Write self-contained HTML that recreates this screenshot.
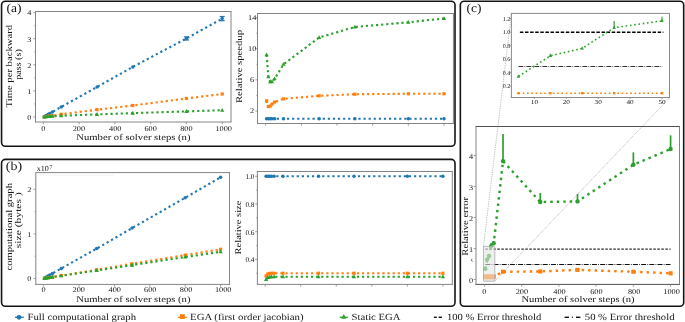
<!DOCTYPE html><html><head><meta charset="utf-8"><style>html,body{margin:0;padding:0;background:#fff;}svg{display:block;will-change:transform;}text{font-family:"Liberation Serif",serif;text-rendering:geometricPrecision;}</style></head><body>
<svg width="685" height="322" viewBox="0 0 685 322">
<rect width="685" height="322" fill="#fff"/>
<rect x="1.55" y="1.2" width="453.45" height="145.1" rx="3.8" ry="3.8" fill="none" stroke="#141414" stroke-width="1.6"/>
<rect x="1.55" y="159.4" width="453.45" height="146.8" rx="3.8" ry="3.8" fill="none" stroke="#141414" stroke-width="1.6"/>
<rect x="460.35" y="1.2" width="223.35" height="305" rx="3.8" ry="3.8" fill="none" stroke="#141414" stroke-width="1.6"/>
<text x="6.5" y="12.1" font-size="12.4" text-anchor="start" fill="#141414" textLength="15" lengthAdjust="spacingAndGlyphs" >(a)</text>
<text x="5.8" y="170.2" font-size="12.4" text-anchor="start" fill="#141414" textLength="16.3" lengthAdjust="spacingAndGlyphs" >(b)</text>
<text x="466.6" y="12.2" font-size="12.4" text-anchor="start" fill="#141414" textLength="14.8" lengthAdjust="spacingAndGlyphs" >(c)</text>
<line x1="35" y1="11.5" x2="231.5" y2="11.5" stroke="#848484" stroke-width="1" />
<line x1="35" y1="122" x2="231.5" y2="122" stroke="#848484" stroke-width="1" />
<line x1="35.5" y1="11.5" x2="35.5" y2="122" stroke="#848484" stroke-width="1" />
<line x1="231" y1="11.5" x2="231" y2="122" stroke="#848484" stroke-width="1" />
<line x1="33.3" y1="117" x2="35.5" y2="117" stroke="#848484" stroke-width="0.8" />
<line x1="33.3" y1="90.9" x2="35.5" y2="90.9" stroke="#848484" stroke-width="0.8" />
<line x1="33.3" y1="64.8" x2="35.5" y2="64.8" stroke="#848484" stroke-width="0.8" />
<line x1="33.3" y1="38.7" x2="35.5" y2="38.7" stroke="#848484" stroke-width="0.8" />
<line x1="33.3" y1="12.6" x2="35.5" y2="12.6" stroke="#848484" stroke-width="0.8" />
<line x1="34.1" y1="103.95" x2="35.5" y2="103.95" stroke="#848484" stroke-width="0.6" />
<line x1="34.1" y1="77.85" x2="35.5" y2="77.85" stroke="#848484" stroke-width="0.6" />
<line x1="34.1" y1="51.75" x2="35.5" y2="51.75" stroke="#848484" stroke-width="0.6" />
<line x1="34.1" y1="25.65" x2="35.5" y2="25.65" stroke="#848484" stroke-width="0.6" />
<text x="31.3" y="119.85" font-size="7.3" text-anchor="end" fill="#141414" textLength="4.14" lengthAdjust="spacingAndGlyphs" >0</text>
<text x="31.3" y="93.75" font-size="7.3" text-anchor="end" fill="#141414" textLength="4.14" lengthAdjust="spacingAndGlyphs" >1</text>
<text x="31.3" y="67.65" font-size="7.3" text-anchor="end" fill="#141414" textLength="4.14" lengthAdjust="spacingAndGlyphs" >2</text>
<text x="31.3" y="41.55" font-size="7.3" text-anchor="end" fill="#141414" textLength="4.14" lengthAdjust="spacingAndGlyphs" >3</text>
<text x="31.3" y="15.45" font-size="7.3" text-anchor="end" fill="#141414" textLength="4.14" lengthAdjust="spacingAndGlyphs" >4</text>
<line x1="43.4" y1="122" x2="43.4" y2="124.2" stroke="#848484" stroke-width="0.8" />
<line x1="79.16" y1="122" x2="79.16" y2="124.2" stroke="#848484" stroke-width="0.8" />
<line x1="114.92" y1="122" x2="114.92" y2="124.2" stroke="#848484" stroke-width="0.8" />
<line x1="150.68" y1="122" x2="150.68" y2="124.2" stroke="#848484" stroke-width="0.8" />
<line x1="186.44" y1="122" x2="186.44" y2="124.2" stroke="#848484" stroke-width="0.8" />
<line x1="222.2" y1="122" x2="222.2" y2="124.2" stroke="#848484" stroke-width="0.8" />
<text x="43.4" y="131" font-size="7.3" text-anchor="middle" fill="#141414" textLength="4.14" lengthAdjust="spacingAndGlyphs" >0</text>
<text x="78.86" y="131" font-size="7.3" text-anchor="middle" fill="#141414" textLength="12.43" lengthAdjust="spacingAndGlyphs" >200</text>
<text x="115.22" y="131" font-size="7.3" text-anchor="middle" fill="#141414" textLength="12.43" lengthAdjust="spacingAndGlyphs" >400</text>
<text x="150.68" y="131" font-size="7.3" text-anchor="middle" fill="#141414" textLength="12.43" lengthAdjust="spacingAndGlyphs" >600</text>
<text x="186.44" y="131" font-size="7.3" text-anchor="middle" fill="#141414" textLength="12.43" lengthAdjust="spacingAndGlyphs" >800</text>
<text x="223.7" y="131" font-size="7.3" text-anchor="middle" fill="#141414" textLength="16.58" lengthAdjust="spacingAndGlyphs" >1000</text>
<text x="76.3" y="140" font-size="8.8" text-anchor="start" fill="#141414" textLength="114.2" lengthAdjust="spacingAndGlyphs" >Number of solver steps (n)</text>
<text x="11.9" y="66.2" font-size="8.8" text-anchor="middle" fill="#141414" textLength="82.5" lengthAdjust="spacingAndGlyphs" transform="rotate(-90 11.9 66.2)" >Time per backward</text>
<text x="20.6" y="64.5" font-size="8.8" text-anchor="middle" fill="#141414" textLength="30.5" lengthAdjust="spacingAndGlyphs" transform="rotate(-90 20.6 64.5)" >pass (s)</text>
<polyline points="44.29,116.48 46.08,115.43 47.87,114.39 49.66,113.48 52.34,112.04 61.28,106.95 97.04,86.98 132.8,66.89 186.44,38.44 222.2,18.6" fill="none" stroke="#1f77b4" stroke-width="2.1" stroke-dasharray="2.2 2.9" />
<circle cx="44.29" cy="116.48" r="1.75" fill="#1f77b4"/>
<circle cx="46.08" cy="115.43" r="1.75" fill="#1f77b4"/>
<circle cx="47.87" cy="114.39" r="1.75" fill="#1f77b4"/>
<circle cx="49.66" cy="113.48" r="1.75" fill="#1f77b4"/>
<circle cx="52.34" cy="112.04" r="1.75" fill="#1f77b4"/>
<circle cx="61.28" cy="106.95" r="1.75" fill="#1f77b4"/>
<circle cx="97.04" cy="86.98" r="1.75" fill="#1f77b4"/>
<circle cx="132.8" cy="66.89" r="1.75" fill="#1f77b4"/>
<circle cx="186.44" cy="38.44" r="1.75" fill="#1f77b4"/>
<circle cx="222.2" cy="18.6" r="1.75" fill="#1f77b4"/>
<polyline points="44.29,116.84 46.08,116.56 47.87,116.3 49.66,116.06 52.34,115.69 61.28,114.26 97.04,109.69 132.8,105.52 186.44,98.47 222.2,94.03" fill="none" stroke="#ff7f0e" stroke-width="2.1" stroke-dasharray="2.2 2.9" />
<rect x="42.69" y="115.24" width="3.2" height="3.2" fill="#ff7f0e"/>
<rect x="44.48" y="114.96" width="3.2" height="3.2" fill="#ff7f0e"/>
<rect x="46.27" y="114.7" width="3.2" height="3.2" fill="#ff7f0e"/>
<rect x="48.06" y="114.46" width="3.2" height="3.2" fill="#ff7f0e"/>
<rect x="50.74" y="114.09" width="3.2" height="3.2" fill="#ff7f0e"/>
<rect x="59.68" y="112.66" width="3.2" height="3.2" fill="#ff7f0e"/>
<rect x="95.44" y="108.09" width="3.2" height="3.2" fill="#ff7f0e"/>
<rect x="131.2" y="103.92" width="3.2" height="3.2" fill="#ff7f0e"/>
<rect x="184.84" y="96.87" width="3.2" height="3.2" fill="#ff7f0e"/>
<rect x="220.6" y="92.43" width="3.2" height="3.2" fill="#ff7f0e"/>
<polyline points="44.29,116.95 46.08,116.77 47.87,116.56 49.66,116.37 52.34,116.19 61.28,115.75 97.04,114.39 132.8,113.14 186.44,111.39 222.2,110.21" fill="none" stroke="#2ca02c" stroke-width="2.1" stroke-dasharray="2.2 2.9" />
<polygon points="44.29,114.68 46.39,118.46 42.19,118.46" fill="#2ca02c"/>
<polygon points="46.08,114.5 48.18,118.28 43.98,118.28" fill="#2ca02c"/>
<polygon points="47.87,114.29 49.97,118.07 45.77,118.07" fill="#2ca02c"/>
<polygon points="49.66,114.11 51.76,117.89 47.56,117.89" fill="#2ca02c"/>
<polygon points="52.34,113.92 54.44,117.7 50.24,117.7" fill="#2ca02c"/>
<polygon points="61.28,113.48 63.38,117.26 59.18,117.26" fill="#2ca02c"/>
<polygon points="97.04,112.12 99.14,115.9 94.94,115.9" fill="#2ca02c"/>
<polygon points="132.8,110.87 134.9,114.65 130.7,114.65" fill="#2ca02c"/>
<polygon points="186.44,109.12 188.54,112.9 184.34,112.9" fill="#2ca02c"/>
<polygon points="222.2,107.95 224.3,111.73 220.1,111.73" fill="#2ca02c"/>
<line x1="186.44" y1="36.87" x2="186.44" y2="40.01" stroke="#1f77b4" stroke-width="1.2" />
<line x1="183.94" y1="36.87" x2="188.94" y2="36.87" stroke="#1f77b4" stroke-width="1.2" />
<line x1="183.94" y1="40.01" x2="188.94" y2="40.01" stroke="#1f77b4" stroke-width="1.2" />
<line x1="222.2" y1="16.51" x2="222.2" y2="20.69" stroke="#1f77b4" stroke-width="1.2" />
<line x1="219.7" y1="16.51" x2="224.7" y2="16.51" stroke="#1f77b4" stroke-width="1.2" />
<line x1="219.7" y1="20.69" x2="224.7" y2="20.69" stroke="#1f77b4" stroke-width="1.2" />
<line x1="257" y1="13.5" x2="453.9" y2="13.5" stroke="#848484" stroke-width="1" />
<line x1="257" y1="123.5" x2="453.9" y2="123.5" stroke="#848484" stroke-width="1" />
<line x1="257.5" y1="13.5" x2="257.5" y2="123.5" stroke="#848484" stroke-width="1" />
<line x1="453.4" y1="13.5" x2="453.4" y2="123.5" stroke="#848484" stroke-width="1" />
<line x1="255.3" y1="110.95" x2="257.5" y2="110.95" stroke="#848484" stroke-width="0.8" />
<line x1="255.3" y1="79.85" x2="257.5" y2="79.85" stroke="#848484" stroke-width="0.8" />
<line x1="255.3" y1="48.75" x2="257.5" y2="48.75" stroke="#848484" stroke-width="0.8" />
<line x1="255.3" y1="17.65" x2="257.5" y2="17.65" stroke="#848484" stroke-width="0.8" />
<line x1="256.1" y1="95.4" x2="257.5" y2="95.4" stroke="#848484" stroke-width="0.6" />
<line x1="256.1" y1="64.3" x2="257.5" y2="64.3" stroke="#848484" stroke-width="0.6" />
<line x1="256.1" y1="33.2" x2="257.5" y2="33.2" stroke="#848484" stroke-width="0.6" />
<text x="252.2" y="113.25" font-size="7.3" text-anchor="middle" fill="#141414" textLength="4.14" lengthAdjust="spacingAndGlyphs" >2</text>
<text x="252.2" y="82.15" font-size="7.3" text-anchor="middle" fill="#141414" textLength="4.14" lengthAdjust="spacingAndGlyphs" >6</text>
<text x="252.2" y="51.05" font-size="7.3" text-anchor="middle" fill="#141414" textLength="8.29" lengthAdjust="spacingAndGlyphs" >10</text>
<text x="252.2" y="19.95" font-size="7.3" text-anchor="middle" fill="#141414" textLength="8.29" lengthAdjust="spacingAndGlyphs" >14</text>
<line x1="265.7" y1="123.5" x2="265.7" y2="125.7" stroke="#848484" stroke-width="0.8" />
<line x1="301.36" y1="123.5" x2="301.36" y2="125.7" stroke="#848484" stroke-width="0.8" />
<line x1="337.02" y1="123.5" x2="337.02" y2="125.7" stroke="#848484" stroke-width="0.8" />
<line x1="372.68" y1="123.5" x2="372.68" y2="125.7" stroke="#848484" stroke-width="0.8" />
<line x1="408.34" y1="123.5" x2="408.34" y2="125.7" stroke="#848484" stroke-width="0.8" />
<line x1="444" y1="123.5" x2="444" y2="125.7" stroke="#848484" stroke-width="0.8" />
<text x="241.8" y="66.5" font-size="8.8" text-anchor="middle" fill="#141414" textLength="73" lengthAdjust="spacingAndGlyphs" transform="rotate(-90 241.8 66.5)" >Relative speedup</text>
<polyline points="266.59,118.72 268.37,118.72 270.16,118.72 271.94,118.72 274.62,118.72 283.53,118.72 319.19,118.72 354.85,118.72 408.34,118.72 444,118.72" fill="none" stroke="#1f77b4" stroke-width="2.1" stroke-dasharray="2.2 2.9" />
<circle cx="266.59" cy="118.72" r="1.75" fill="#1f77b4"/>
<circle cx="268.37" cy="118.72" r="1.75" fill="#1f77b4"/>
<circle cx="270.16" cy="118.72" r="1.75" fill="#1f77b4"/>
<circle cx="271.94" cy="118.72" r="1.75" fill="#1f77b4"/>
<circle cx="274.62" cy="118.72" r="1.75" fill="#1f77b4"/>
<circle cx="283.53" cy="118.72" r="1.75" fill="#1f77b4"/>
<circle cx="319.19" cy="118.72" r="1.75" fill="#1f77b4"/>
<circle cx="354.85" cy="118.72" r="1.75" fill="#1f77b4"/>
<circle cx="408.34" cy="118.72" r="1.75" fill="#1f77b4"/>
<circle cx="444" cy="118.72" r="1.75" fill="#1f77b4"/>
<polyline points="266.59,100.76 268.37,106.52 270.16,106.13 271.94,104.19 274.62,102.09 283.53,98.82 319.19,95.79 354.85,94.23 408.34,93.77 444,93.77" fill="none" stroke="#ff7f0e" stroke-width="2.1" stroke-dasharray="2.2 2.9" />
<rect x="264.99" y="99.16" width="3.2" height="3.2" fill="#ff7f0e"/>
<rect x="266.77" y="104.92" width="3.2" height="3.2" fill="#ff7f0e"/>
<rect x="268.56" y="104.53" width="3.2" height="3.2" fill="#ff7f0e"/>
<rect x="270.34" y="102.59" width="3.2" height="3.2" fill="#ff7f0e"/>
<rect x="273.01" y="100.49" width="3.2" height="3.2" fill="#ff7f0e"/>
<rect x="281.93" y="97.22" width="3.2" height="3.2" fill="#ff7f0e"/>
<rect x="317.59" y="94.19" width="3.2" height="3.2" fill="#ff7f0e"/>
<rect x="353.25" y="92.63" width="3.2" height="3.2" fill="#ff7f0e"/>
<rect x="406.74" y="92.17" width="3.2" height="3.2" fill="#ff7f0e"/>
<rect x="442.4" y="92.17" width="3.2" height="3.2" fill="#ff7f0e"/>
<polyline points="266.59,54.81 268.37,76.82 270.16,81.64 271.94,81.64 274.62,78.84 283.53,64.3 319.19,37.48 354.85,26.98 408.34,22.31 444,18.43" fill="none" stroke="#2ca02c" stroke-width="2.1" stroke-dasharray="2.2 2.9" />
<polygon points="266.59,52.55 268.69,56.33 264.49,56.33" fill="#2ca02c"/>
<polygon points="268.37,74.55 270.47,78.33 266.27,78.33" fill="#2ca02c"/>
<polygon points="270.16,79.37 272.26,83.15 268.06,83.15" fill="#2ca02c"/>
<polygon points="271.94,79.37 274.04,83.15 269.84,83.15" fill="#2ca02c"/>
<polygon points="274.62,76.57 276.72,80.35 272.51,80.35" fill="#2ca02c"/>
<polygon points="283.53,62.03 285.63,65.81 281.43,65.81" fill="#2ca02c"/>
<polygon points="319.19,35.21 321.29,38.99 317.09,38.99" fill="#2ca02c"/>
<polygon points="354.85,24.71 356.95,28.49 352.75,28.49" fill="#2ca02c"/>
<polygon points="408.34,20.05 410.44,23.83 406.24,23.83" fill="#2ca02c"/>
<polygon points="444,16.16 446.1,19.94 441.9,19.94" fill="#2ca02c"/>
<line x1="35.3" y1="172.6" x2="230" y2="172.6" stroke="#848484" stroke-width="1" />
<line x1="35.3" y1="284.4" x2="230" y2="284.4" stroke="#848484" stroke-width="1" />
<line x1="35.8" y1="172.6" x2="35.8" y2="284.4" stroke="#848484" stroke-width="1" />
<line x1="229.5" y1="172.6" x2="229.5" y2="284.4" stroke="#848484" stroke-width="1" />
<line x1="38.8" y1="175" x2="114" y2="175" stroke="#efefef" stroke-width="0.8" />
<line x1="33.6" y1="278.5" x2="35.8" y2="278.5" stroke="#848484" stroke-width="0.8" />
<line x1="33.6" y1="233.9" x2="35.8" y2="233.9" stroke="#848484" stroke-width="0.8" />
<line x1="33.6" y1="189.3" x2="35.8" y2="189.3" stroke="#848484" stroke-width="0.8" />
<line x1="34.4" y1="256.2" x2="35.8" y2="256.2" stroke="#848484" stroke-width="0.6" />
<line x1="34.4" y1="211.6" x2="35.8" y2="211.6" stroke="#848484" stroke-width="0.6" />
<text x="31.3" y="281.35" font-size="7.3" text-anchor="end" fill="#141414" textLength="4.14" lengthAdjust="spacingAndGlyphs" >0</text>
<text x="31.3" y="236.75" font-size="7.3" text-anchor="end" fill="#141414" textLength="4.14" lengthAdjust="spacingAndGlyphs" >1</text>
<text x="31.3" y="192.15" font-size="7.3" text-anchor="end" fill="#141414" textLength="4.14" lengthAdjust="spacingAndGlyphs" >2</text>
<line x1="43.6" y1="284.4" x2="43.6" y2="286.6" stroke="#848484" stroke-width="0.8" />
<line x1="79" y1="284.4" x2="79" y2="286.6" stroke="#848484" stroke-width="0.8" />
<line x1="114.4" y1="284.4" x2="114.4" y2="286.6" stroke="#848484" stroke-width="0.8" />
<line x1="149.8" y1="284.4" x2="149.8" y2="286.6" stroke="#848484" stroke-width="0.8" />
<line x1="185.2" y1="284.4" x2="185.2" y2="286.6" stroke="#848484" stroke-width="0.8" />
<line x1="220.6" y1="284.4" x2="220.6" y2="286.6" stroke="#848484" stroke-width="0.8" />
<text x="43.6" y="291.6" font-size="7.3" text-anchor="middle" fill="#141414" textLength="4.14" lengthAdjust="spacingAndGlyphs" >0</text>
<text x="78.8" y="291.6" font-size="7.3" text-anchor="middle" fill="#141414" textLength="12.43" lengthAdjust="spacingAndGlyphs" >200</text>
<text x="114.8" y="291.6" font-size="7.3" text-anchor="middle" fill="#141414" textLength="12.43" lengthAdjust="spacingAndGlyphs" >400</text>
<text x="150.3" y="291.6" font-size="7.3" text-anchor="middle" fill="#141414" textLength="12.43" lengthAdjust="spacingAndGlyphs" >600</text>
<text x="186.1" y="291.6" font-size="7.3" text-anchor="middle" fill="#141414" textLength="12.43" lengthAdjust="spacingAndGlyphs" >800</text>
<text x="223.2" y="291.6" font-size="7.3" text-anchor="middle" fill="#141414" textLength="16.58" lengthAdjust="spacingAndGlyphs" >1000</text>
<text x="76.3" y="301.8" font-size="8.8" text-anchor="start" fill="#141414" textLength="114.2" lengthAdjust="spacingAndGlyphs" >Number of solver steps (n)</text>
<text x="11.8" y="226.8" font-size="8.8" text-anchor="middle" fill="#141414" textLength="87.5" lengthAdjust="spacingAndGlyphs" transform="rotate(-90 11.8 226.8)" >computational graph</text>
<text x="21.5" y="220.2" font-size="8.8" text-anchor="middle" fill="#141414" textLength="55.9" lengthAdjust="spacingAndGlyphs" transform="rotate(-90 21.5 220.2)" >size (bytes )</text>
<text x="36.8" y="171" font-size="7.8" text-anchor="start" fill="#1a1a1a" textLength="12.1" lengthAdjust="spacingAndGlyphs" >x10</text>
<text x="49.5" y="169" font-size="5.6" text-anchor="start" fill="#1a1a1a" >7</text>
<polyline points="44.48,277.99 46.26,276.98 48.02,275.96 49.8,274.93 52.45,273.42 61.3,268.38 96.7,248.62 132.1,228.1 185.2,197.77 220.6,177.26" fill="none" stroke="#1f77b4" stroke-width="2.1" stroke-dasharray="2.2 2.9" />
<circle cx="44.48" cy="277.99" r="1.75" fill="#1f77b4"/>
<circle cx="46.26" cy="276.98" r="1.75" fill="#1f77b4"/>
<circle cx="48.02" cy="275.96" r="1.75" fill="#1f77b4"/>
<circle cx="49.8" cy="274.93" r="1.75" fill="#1f77b4"/>
<circle cx="52.45" cy="273.42" r="1.75" fill="#1f77b4"/>
<circle cx="61.3" cy="268.38" r="1.75" fill="#1f77b4"/>
<circle cx="96.7" cy="248.62" r="1.75" fill="#1f77b4"/>
<circle cx="132.1" cy="228.1" r="1.75" fill="#1f77b4"/>
<circle cx="185.2" cy="197.77" r="1.75" fill="#1f77b4"/>
<circle cx="220.6" cy="177.26" r="1.75" fill="#1f77b4"/>
<polyline points="44.48,278.36 46.26,278.06 48.02,277.76 49.8,277.47 52.45,277.03 61.3,275.56 96.7,269.8 132.1,263.78 185.2,255.09 220.6,249.29" fill="none" stroke="#ff7f0e" stroke-width="2.1" stroke-dasharray="2.2 2.9" />
<rect x="42.88" y="276.76" width="3.2" height="3.2" fill="#ff7f0e"/>
<rect x="44.66" y="276.46" width="3.2" height="3.2" fill="#ff7f0e"/>
<rect x="46.42" y="276.16" width="3.2" height="3.2" fill="#ff7f0e"/>
<rect x="48.2" y="275.87" width="3.2" height="3.2" fill="#ff7f0e"/>
<rect x="50.85" y="275.43" width="3.2" height="3.2" fill="#ff7f0e"/>
<rect x="59.7" y="273.96" width="3.2" height="3.2" fill="#ff7f0e"/>
<rect x="95.1" y="268.2" width="3.2" height="3.2" fill="#ff7f0e"/>
<rect x="130.5" y="262.18" width="3.2" height="3.2" fill="#ff7f0e"/>
<rect x="183.6" y="253.49" width="3.2" height="3.2" fill="#ff7f0e"/>
<rect x="219" y="247.69" width="3.2" height="3.2" fill="#ff7f0e"/>
<polyline points="44.48,278.37 46.26,278.09 48.02,277.81 49.8,277.54 52.45,277.12 61.3,275.78 96.7,270.47 132.1,265.12 185.2,257.09 220.6,251.74" fill="none" stroke="#2ca02c" stroke-width="2.1" stroke-dasharray="2.2 2.9" />
<polygon points="44.48,276.1 46.59,279.88 42.38,279.88" fill="#2ca02c"/>
<polygon points="46.26,275.82 48.36,279.6 44.16,279.6" fill="#2ca02c"/>
<polygon points="48.02,275.54 50.12,279.32 45.92,279.32" fill="#2ca02c"/>
<polygon points="49.8,275.27 51.9,279.05 47.7,279.05" fill="#2ca02c"/>
<polygon points="52.45,274.85 54.55,278.63 50.35,278.63" fill="#2ca02c"/>
<polygon points="61.3,273.51 63.4,277.29 59.2,277.29" fill="#2ca02c"/>
<polygon points="96.7,268.2 98.8,271.98 94.6,271.98" fill="#2ca02c"/>
<polygon points="132.1,262.85 134.2,266.63 130,266.63" fill="#2ca02c"/>
<polygon points="185.2,254.82 187.3,258.6 183.1,258.6" fill="#2ca02c"/>
<polygon points="220.6,249.47 222.7,253.25 218.5,253.25" fill="#2ca02c"/>
<line x1="256.9" y1="171.5" x2="452.8" y2="171.5" stroke="#848484" stroke-width="1" />
<line x1="256.9" y1="284.4" x2="452.8" y2="284.4" stroke="#848484" stroke-width="1" />
<line x1="257.4" y1="171.5" x2="257.4" y2="284.4" stroke="#848484" stroke-width="1" />
<line x1="452.3" y1="171.5" x2="452.3" y2="284.4" stroke="#848484" stroke-width="1" />
<line x1="255.2" y1="259.4" x2="257.4" y2="259.4" stroke="#848484" stroke-width="0.8" />
<line x1="255.2" y1="231.7" x2="257.4" y2="231.7" stroke="#848484" stroke-width="0.8" />
<line x1="255.2" y1="204" x2="257.4" y2="204" stroke="#848484" stroke-width="0.8" />
<line x1="255.2" y1="176.3" x2="257.4" y2="176.3" stroke="#848484" stroke-width="0.8" />
<line x1="256" y1="273.25" x2="257.4" y2="273.25" stroke="#848484" stroke-width="0.6" />
<line x1="256" y1="245.55" x2="257.4" y2="245.55" stroke="#848484" stroke-width="0.6" />
<line x1="256" y1="217.85" x2="257.4" y2="217.85" stroke="#848484" stroke-width="0.6" />
<line x1="256" y1="190.15" x2="257.4" y2="190.15" stroke="#848484" stroke-width="0.6" />
<text x="254.5" y="262.25" font-size="7.3" text-anchor="end" fill="#141414" >0.4</text>
<text x="254.5" y="234.55" font-size="7.3" text-anchor="end" fill="#141414" >0.6</text>
<text x="254.5" y="206.85" font-size="7.3" text-anchor="end" fill="#141414" >0.8</text>
<text x="254.5" y="179.15" font-size="7.3" text-anchor="end" fill="#141414" >1.0</text>
<line x1="265.2" y1="284.4" x2="265.2" y2="286.6" stroke="#848484" stroke-width="0.8" />
<line x1="300.74" y1="284.4" x2="300.74" y2="286.6" stroke="#848484" stroke-width="0.8" />
<line x1="336.28" y1="284.4" x2="336.28" y2="286.6" stroke="#848484" stroke-width="0.8" />
<line x1="371.82" y1="284.4" x2="371.82" y2="286.6" stroke="#848484" stroke-width="0.8" />
<line x1="407.36" y1="284.4" x2="407.36" y2="286.6" stroke="#848484" stroke-width="0.8" />
<line x1="442.9" y1="284.4" x2="442.9" y2="286.6" stroke="#848484" stroke-width="0.8" />
<text x="240.9" y="227.5" font-size="8.8" text-anchor="middle" fill="#141414" textLength="53.8" lengthAdjust="spacingAndGlyphs" transform="rotate(-90 240.9 227.5)" >Relative size</text>
<polyline points="266.09,176.3 267.87,176.3 269.64,176.3 271.42,176.3 274.08,176.3 282.97,176.3 318.51,176.3 354.05,176.3 407.36,176.3 442.9,176.3" fill="none" stroke="#1f77b4" stroke-width="2.1" stroke-dasharray="2.2 2.9" />
<circle cx="266.09" cy="176.3" r="1.75" fill="#1f77b4"/>
<circle cx="267.87" cy="176.3" r="1.75" fill="#1f77b4"/>
<circle cx="269.64" cy="176.3" r="1.75" fill="#1f77b4"/>
<circle cx="271.42" cy="176.3" r="1.75" fill="#1f77b4"/>
<circle cx="274.08" cy="176.3" r="1.75" fill="#1f77b4"/>
<circle cx="282.97" cy="176.3" r="1.75" fill="#1f77b4"/>
<circle cx="318.51" cy="176.3" r="1.75" fill="#1f77b4"/>
<circle cx="354.05" cy="176.3" r="1.75" fill="#1f77b4"/>
<circle cx="407.36" cy="176.3" r="1.75" fill="#1f77b4"/>
<circle cx="442.9" cy="176.3" r="1.75" fill="#1f77b4"/>
<polyline points="266.09,276.02 267.87,273.94 269.64,273.53 271.42,273.25 274.08,273.25 282.97,273.25 318.51,273.25 354.05,273.25 407.36,273.25 442.9,273.25" fill="none" stroke="#ff7f0e" stroke-width="2.1" stroke-dasharray="2.2 2.9" />
<rect x="264.49" y="274.42" width="3.2" height="3.2" fill="#ff7f0e"/>
<rect x="266.27" y="272.34" width="3.2" height="3.2" fill="#ff7f0e"/>
<rect x="268.04" y="271.93" width="3.2" height="3.2" fill="#ff7f0e"/>
<rect x="269.82" y="271.65" width="3.2" height="3.2" fill="#ff7f0e"/>
<rect x="272.48" y="271.65" width="3.2" height="3.2" fill="#ff7f0e"/>
<rect x="281.37" y="271.65" width="3.2" height="3.2" fill="#ff7f0e"/>
<rect x="316.91" y="271.65" width="3.2" height="3.2" fill="#ff7f0e"/>
<rect x="352.45" y="271.65" width="3.2" height="3.2" fill="#ff7f0e"/>
<rect x="405.76" y="271.65" width="3.2" height="3.2" fill="#ff7f0e"/>
<rect x="441.3" y="271.65" width="3.2" height="3.2" fill="#ff7f0e"/>
<polyline points="266.09,279.48 267.87,277.41 269.64,277.13 271.42,276.71 274.08,276.71 282.97,276.71 318.51,276.71 354.05,276.71 407.36,276.71 442.9,276.71" fill="none" stroke="#2ca02c" stroke-width="2.1" stroke-dasharray="2.2 2.9" />
<polygon points="266.09,277.21 268.19,280.99 263.99,280.99" fill="#2ca02c"/>
<polygon points="267.87,275.14 269.97,278.92 265.77,278.92" fill="#2ca02c"/>
<polygon points="269.64,274.86 271.74,278.64 267.54,278.64" fill="#2ca02c"/>
<polygon points="271.42,274.44 273.52,278.22 269.32,278.22" fill="#2ca02c"/>
<polygon points="274.08,274.44 276.19,278.22 271.98,278.22" fill="#2ca02c"/>
<polygon points="282.97,274.44 285.07,278.22 280.87,278.22" fill="#2ca02c"/>
<polygon points="318.51,274.44 320.61,278.22 316.41,278.22" fill="#2ca02c"/>
<polygon points="354.05,274.44 356.15,278.22 351.95,278.22" fill="#2ca02c"/>
<polygon points="407.36,274.44 409.46,278.22 405.26,278.22" fill="#2ca02c"/>
<polygon points="442.9,274.44 445,278.22 440.8,278.22" fill="#2ca02c"/>
<line x1="475.5" y1="126.5" x2="680" y2="126.5" stroke="#505050" stroke-width="1" />
<line x1="475.5" y1="284.4" x2="680" y2="284.4" stroke="#505050" stroke-width="1" />
<line x1="476" y1="126.5" x2="476" y2="284.4" stroke="#848484" stroke-width="1" />
<line x1="679.5" y1="126.5" x2="679.5" y2="284.4" stroke="#848484" stroke-width="1" />
<line x1="473.8" y1="279.5" x2="476" y2="279.5" stroke="#848484" stroke-width="0.8" />
<line x1="473.8" y1="248.5" x2="476" y2="248.5" stroke="#848484" stroke-width="0.8" />
<line x1="473.8" y1="217.5" x2="476" y2="217.5" stroke="#848484" stroke-width="0.8" />
<line x1="473.8" y1="186.5" x2="476" y2="186.5" stroke="#848484" stroke-width="0.8" />
<line x1="473.8" y1="155.5" x2="476" y2="155.5" stroke="#848484" stroke-width="0.8" />
<text x="473.2" y="282.8" font-size="7.3" text-anchor="end" fill="#141414" textLength="4.14" lengthAdjust="spacingAndGlyphs" >0</text>
<text x="473.2" y="251.8" font-size="7.3" text-anchor="end" fill="#141414" textLength="4.14" lengthAdjust="spacingAndGlyphs" >1</text>
<text x="473.2" y="220.8" font-size="7.3" text-anchor="end" fill="#141414" textLength="4.14" lengthAdjust="spacingAndGlyphs" >2</text>
<text x="473.2" y="189.8" font-size="7.3" text-anchor="end" fill="#141414" textLength="4.14" lengthAdjust="spacingAndGlyphs" >3</text>
<text x="473.2" y="158.8" font-size="7.3" text-anchor="end" fill="#141414" textLength="4.14" lengthAdjust="spacingAndGlyphs" >4</text>
<line x1="484.4" y1="284.4" x2="484.4" y2="286.6" stroke="#848484" stroke-width="0.8" />
<line x1="521.64" y1="284.4" x2="521.64" y2="286.6" stroke="#848484" stroke-width="0.8" />
<line x1="558.88" y1="284.4" x2="558.88" y2="286.6" stroke="#848484" stroke-width="0.8" />
<line x1="596.12" y1="284.4" x2="596.12" y2="286.6" stroke="#848484" stroke-width="0.8" />
<line x1="633.36" y1="284.4" x2="633.36" y2="286.6" stroke="#848484" stroke-width="0.8" />
<line x1="670.6" y1="284.4" x2="670.6" y2="286.6" stroke="#848484" stroke-width="0.8" />
<text x="484.4" y="294" font-size="7.3" text-anchor="middle" fill="#141414" textLength="4.14" lengthAdjust="spacingAndGlyphs" >0</text>
<text x="521.84" y="294" font-size="7.3" text-anchor="middle" fill="#141414" textLength="12.43" lengthAdjust="spacingAndGlyphs" >200</text>
<text x="559.48" y="294" font-size="7.3" text-anchor="middle" fill="#141414" textLength="12.43" lengthAdjust="spacingAndGlyphs" >400</text>
<text x="596.42" y="294" font-size="7.3" text-anchor="middle" fill="#141414" textLength="12.43" lengthAdjust="spacingAndGlyphs" >600</text>
<text x="634.16" y="294" font-size="7.3" text-anchor="middle" fill="#141414" textLength="12.43" lengthAdjust="spacingAndGlyphs" >800</text>
<text x="671.6" y="294" font-size="7.3" text-anchor="middle" fill="#141414" textLength="16.58" lengthAdjust="spacingAndGlyphs" >1000</text>
<text x="521.4" y="302.2" font-size="8.8" text-anchor="start" fill="#141414" textLength="113.2" lengthAdjust="spacingAndGlyphs" >Number of solver steps (n)</text>
<text x="467.6" y="226.3" font-size="8.8" text-anchor="middle" fill="#141414" textLength="58.7" lengthAdjust="spacingAndGlyphs" transform="rotate(-90 467.6 226.3)" >Relative error</text>
<text x="471.8" y="260.5" font-size="5" text-anchor="middle" fill="#141414" >ς</text>
<polyline points="485.33,249 670.6,249" fill="none" stroke="#2a2a2a" stroke-width="1.25" stroke-dasharray="2.5 1.5" />
<polyline points="485.33,264.5 670.6,264.5" fill="none" stroke="#111" stroke-width="1.1" stroke-dasharray="5 1.2 0.8 1.2" />
<rect x="484.2" y="274.6" width="10.2" height="4.8" fill="#ff7f0e"/>
<polyline points="485.33,276.56 487.19,276.56 489.05,276.56 490.92,276.56 493.71,276.56 503.02,271.75 540.26,271.44 577.5,269.89 633.36,271.75 670.6,273.3" fill="none" stroke="#ff7f0e" stroke-width="2.4" stroke-dasharray="2.5 4" />
<rect x="483.28" y="274.5" width="4.1" height="4.1" fill="#ff7f0e"/>
<rect x="485.14" y="274.5" width="4.1" height="4.1" fill="#ff7f0e"/>
<rect x="487" y="274.5" width="4.1" height="4.1" fill="#ff7f0e"/>
<rect x="488.87" y="274.5" width="4.1" height="4.1" fill="#ff7f0e"/>
<rect x="491.66" y="274.5" width="4.1" height="4.1" fill="#ff7f0e"/>
<rect x="500.97" y="269.7" width="4.1" height="4.1" fill="#ff7f0e"/>
<rect x="538.21" y="269.39" width="4.1" height="4.1" fill="#ff7f0e"/>
<rect x="575.45" y="267.84" width="4.1" height="4.1" fill="#ff7f0e"/>
<rect x="631.31" y="269.7" width="4.1" height="4.1" fill="#ff7f0e"/>
<rect x="668.55" y="271.25" width="4.1" height="4.1" fill="#ff7f0e"/>
<polyline points="485.33,268.84 487.19,259.35 489.05,255.94 490.92,246.42 493.71,243.29 503.02,161.08 540.26,202 577.5,201.38 633.36,164.8 670.6,148.99" fill="none" stroke="#2ca02c" stroke-width="2.4" stroke-dasharray="2.5 4" />
<line x1="485.33" y1="268.34" x2="485.33" y2="268.84" stroke="#2ca02c" stroke-width="1.7" />
<circle cx="485.33" cy="268.84" r="2.2" fill="#2ca02c"/>
<line x1="487.19" y1="258.42" x2="487.19" y2="259.35" stroke="#2ca02c" stroke-width="1.7" />
<circle cx="487.19" cy="259.35" r="2.2" fill="#2ca02c"/>
<line x1="489.05" y1="255.63" x2="489.05" y2="255.94" stroke="#2ca02c" stroke-width="1.7" />
<circle cx="489.05" cy="255.94" r="2.2" fill="#2ca02c"/>
<line x1="490.92" y1="243.29" x2="490.92" y2="246.42" stroke="#2ca02c" stroke-width="1.7" />
<circle cx="490.92" cy="246.42" r="2.2" fill="#2ca02c"/>
<line x1="493.71" y1="241.4" x2="493.71" y2="243.29" stroke="#2ca02c" stroke-width="1.7" />
<circle cx="493.71" cy="243.29" r="2.2" fill="#2ca02c"/>
<line x1="503.02" y1="134.11" x2="503.02" y2="161.08" stroke="#2ca02c" stroke-width="1.7" />
<circle cx="503.02" cy="161.08" r="2.2" fill="#2ca02c"/>
<line x1="540.26" y1="193.01" x2="540.26" y2="202" stroke="#2ca02c" stroke-width="1.7" />
<circle cx="540.26" cy="202" r="2.2" fill="#2ca02c"/>
<line x1="577.5" y1="193.94" x2="577.5" y2="201.38" stroke="#2ca02c" stroke-width="1.7" />
<circle cx="577.5" cy="201.38" r="2.2" fill="#2ca02c"/>
<line x1="633.36" y1="152.4" x2="633.36" y2="164.8" stroke="#2ca02c" stroke-width="1.7" />
<circle cx="633.36" cy="164.8" r="2.2" fill="#2ca02c"/>
<line x1="670.6" y1="135.35" x2="670.6" y2="148.99" stroke="#2ca02c" stroke-width="1.7" />
<circle cx="670.6" cy="148.99" r="2.2" fill="#2ca02c"/>
<rect x="483.5" y="246.3" width="11.3" height="34.9" fill="#e4e4e4" fill-opacity="0.6" stroke="#a8a8a8" stroke-width="0.8" rx="0.5"/>
<line x1="483.5" y1="246.3" x2="511.5" y2="13.4" stroke="#777" stroke-width="0.6" stroke-dasharray="0.8 1"/>
<line x1="494.8" y1="281.2" x2="669.5" y2="97.9" stroke="#777" stroke-width="0.6" stroke-dasharray="0.8 1"/>
<rect x="511.4" y="13.4" width="158.1" height="84.1" fill="#fff"/>
<line x1="510.9" y1="13.4" x2="670" y2="13.4" stroke="#8a8a8a" stroke-width="1" />
<line x1="510.9" y1="97.5" x2="670" y2="97.5" stroke="#8a8a8a" stroke-width="1" />
<line x1="511.4" y1="13.4" x2="511.4" y2="97.5" stroke="#8a8a8a" stroke-width="1" />
<line x1="669.5" y1="13.4" x2="669.5" y2="97.5" stroke="#8a8a8a" stroke-width="1" />
<line x1="509.8" y1="86.12" x2="511.4" y2="86.12" stroke="#848484" stroke-width="0.8" />
<line x1="509.8" y1="72.64" x2="511.4" y2="72.64" stroke="#848484" stroke-width="0.8" />
<line x1="509.8" y1="59.16" x2="511.4" y2="59.16" stroke="#848484" stroke-width="0.8" />
<line x1="509.8" y1="45.68" x2="511.4" y2="45.68" stroke="#848484" stroke-width="0.8" />
<line x1="509.8" y1="32.2" x2="511.4" y2="32.2" stroke="#848484" stroke-width="0.8" />
<line x1="509.8" y1="18.72" x2="511.4" y2="18.72" stroke="#848484" stroke-width="0.8" />
<text x="510.2" y="88.12" font-size="6" text-anchor="end" fill="#141414" >0.2</text>
<text x="510.2" y="74.64" font-size="6" text-anchor="end" fill="#141414" >0.4</text>
<text x="510.2" y="61.16" font-size="6" text-anchor="end" fill="#141414" >0.6</text>
<text x="510.2" y="47.68" font-size="6" text-anchor="end" fill="#141414" >0.8</text>
<text x="510.2" y="34.2" font-size="6" text-anchor="end" fill="#141414" >1.0</text>
<text x="510.2" y="20.72" font-size="6" text-anchor="end" fill="#141414" >1.2</text>
<line x1="534.4" y1="97.5" x2="534.4" y2="99.1" stroke="#848484" stroke-width="0.8" />
<line x1="566.3" y1="97.5" x2="566.3" y2="99.1" stroke="#848484" stroke-width="0.8" />
<line x1="598.2" y1="97.5" x2="598.2" y2="99.1" stroke="#848484" stroke-width="0.8" />
<line x1="630.1" y1="97.5" x2="630.1" y2="99.1" stroke="#848484" stroke-width="0.8" />
<line x1="662" y1="97.5" x2="662" y2="99.1" stroke="#848484" stroke-width="0.8" />
<text x="534.4" y="104.2" font-size="6" text-anchor="middle" fill="#141414" textLength="7.2" lengthAdjust="spacingAndGlyphs" >10</text>
<text x="566.3" y="104.2" font-size="6" text-anchor="middle" fill="#141414" textLength="7.2" lengthAdjust="spacingAndGlyphs" >20</text>
<text x="598.2" y="104.2" font-size="6" text-anchor="middle" fill="#141414" textLength="7.2" lengthAdjust="spacingAndGlyphs" >30</text>
<text x="630.1" y="104.2" font-size="6" text-anchor="middle" fill="#141414" textLength="7.2" lengthAdjust="spacingAndGlyphs" >40</text>
<text x="662" y="104.2" font-size="6" text-anchor="middle" fill="#141414" textLength="7.2" lengthAdjust="spacingAndGlyphs" >50</text>
<polyline points="519.9,32.2 663.4,32.2" fill="none" stroke="#000" stroke-width="1.45" stroke-dasharray="3.5 1.6" />
<polyline points="518.45,66.5 662.6,66.5" fill="none" stroke="#1a1a1a" stroke-width="0.9" stroke-dasharray="4.8 1.2 0.8 1.2" />
<polyline points="518.45,93.2 550.35,93.2 582.25,93.2 614.15,93.2 662,93.2" fill="none" stroke="#ff7f0e" stroke-width="1.6" stroke-dasharray="1.6 2.7" />
<rect x="517.25" y="92" width="2.4" height="2.4" fill="#ff7f0e"/>
<rect x="549.15" y="92" width="2.4" height="2.4" fill="#ff7f0e"/>
<rect x="581.05" y="92" width="2.4" height="2.4" fill="#ff7f0e"/>
<rect x="612.95" y="92" width="2.4" height="2.4" fill="#ff7f0e"/>
<rect x="660.8" y="92" width="2.4" height="2.4" fill="#ff7f0e"/>
<polyline points="518.45,76.41 550.35,55.79 582.25,48.38 614.15,27.68 662,20.88" fill="none" stroke="#2ca02c" stroke-width="1.6" stroke-dasharray="1.6 2.7" />
<line x1="518.45" y1="75.34" x2="518.45" y2="76.41" stroke="#2ca02c" stroke-width="1.2" />
<polygon points="518.45,74.58 520.15,77.64 516.75,77.64" fill="#2ca02c"/>
<line x1="550.35" y1="53.77" x2="550.35" y2="55.79" stroke="#2ca02c" stroke-width="1.2" />
<polygon points="550.35,53.95 552.05,57.01 548.65,57.01" fill="#2ca02c"/>
<line x1="582.25" y1="47.7" x2="582.25" y2="48.38" stroke="#2ca02c" stroke-width="1.2" />
<polygon points="582.25,46.54 583.95,49.6 580.55,49.6" fill="#2ca02c"/>
<line x1="614.15" y1="20.88" x2="614.15" y2="27.68" stroke="#2ca02c" stroke-width="1.2" />
<polygon points="614.15,25.85 615.85,28.91 612.45,28.91" fill="#2ca02c"/>
<line x1="662" y1="16.77" x2="662" y2="20.88" stroke="#2ca02c" stroke-width="1.2" />
<polygon points="662,19.04 663.7,22.1 660.3,22.1" fill="#2ca02c"/>
<line x1="15" y1="317.3" x2="23.8" y2="317.3" stroke="#1f77b4" stroke-width="1.3" />
<circle cx="19" cy="317.3" r="2.4" fill="#1f77b4"/>
<text x="27.5" y="319.8" font-size="9.4" text-anchor="start" fill="#141414" textLength="108.5" lengthAdjust="spacingAndGlyphs" >Full computational graph</text>
<line x1="178.1" y1="317.3" x2="186.8" y2="317.3" stroke="#ff7f0e" stroke-width="1.3" />
<rect x="180" y="314.2" width="4.8" height="4.8" fill="#ff7f0e"/>
<text x="190.1" y="319.8" font-size="9.4" text-anchor="start" fill="#141414" textLength="113.5" lengthAdjust="spacingAndGlyphs" >EGA (first order jacobian)</text>
<line x1="339.7" y1="317.3" x2="347.9" y2="317.3" stroke="#2ca02c" stroke-width="1.3" />
<polygon points="343.8,314.0 346.3,318.8 341.3,318.8" fill="#2ca02c"/>
<text x="351.5" y="319.8" font-size="9.4" text-anchor="start" fill="#141414" textLength="49" lengthAdjust="spacingAndGlyphs" >Static EGA</text>
<line x1="434" y1="317.3" x2="436.8" y2="317.3" stroke="#111" stroke-width="1.4" />
<line x1="438.6" y1="317.3" x2="441.9" y2="317.3" stroke="#111" stroke-width="1.4" />
<text x="447" y="319.8" font-size="9.4" text-anchor="start" fill="#141414" textLength="94.2" lengthAdjust="spacingAndGlyphs" >100 % Error threshold</text>
<line x1="564.6" y1="317.3" x2="569" y2="317.3" stroke="#111" stroke-width="1.4" />
<line x1="571.9" y1="317.3" x2="572.8" y2="317.3" stroke="#111" stroke-width="1.4" />
<line x1="576" y1="317.3" x2="580.4" y2="317.3" stroke="#111" stroke-width="1.4" />
<text x="584.8" y="319.8" font-size="9.4" text-anchor="start" fill="#141414" textLength="89.7" lengthAdjust="spacingAndGlyphs" >50 % Error threshold</text>
</svg></body></html>
